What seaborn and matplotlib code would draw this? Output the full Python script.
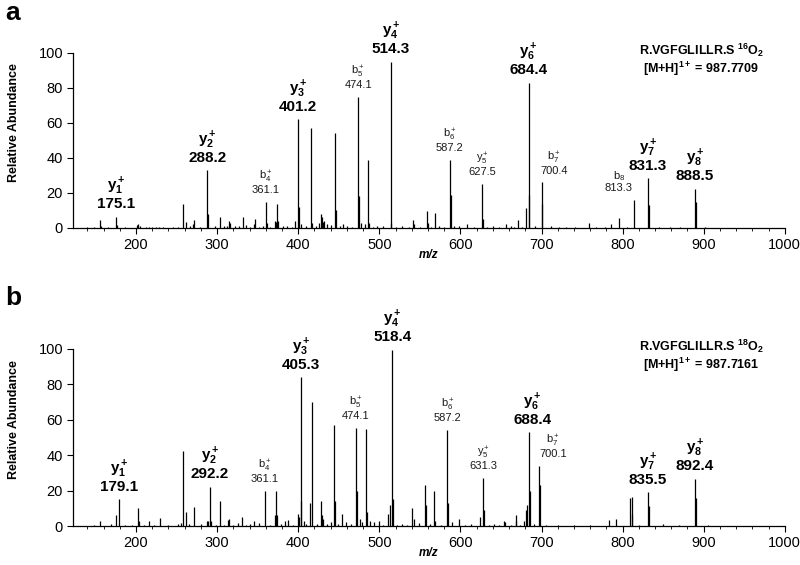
import matplotlib
matplotlib.use('Agg')
import matplotlib.pyplot as plt
import seaborn as sns
from matplotlib.ticker import MultipleLocator

# peaks of the 16O2 spectrum (panel a): m/z and relative abundance
mz_16 = [140, 148, 156, 157, 165, 175, 176, 186, 201, 203,
         205, 212, 216, 220, 224, 228, 233, 246, 252, 258,
         261, 266, 270, 272, 279, 288, 289, 297, 304, 308,
         312, 315, 316, 322, 327, 332, 336, 341, 345, 347,
         352, 356, 360, 361, 365, 371, 372, 374, 375, 381,
         386, 392, 396, 400, 401, 404, 410, 416, 417, 422,
         426, 428, 429, 430, 432, 436, 441, 445, 446, 451,
         455, 460, 466, 474, 475, 477, 482, 486, 487, 492,
         497, 505, 514, 515, 521, 528, 536, 542, 543, 550,
         559, 560, 564, 569, 574, 580, 587, 588, 592, 598,
         608, 617, 627, 628, 633, 640, 648, 656, 662, 666,
         671, 676, 681, 684, 685, 692, 700, 701, 712, 722,
         730, 741, 758, 767, 778, 786, 796, 806, 814, 831,
         832, 845, 858, 871, 889, 890, 902]
ab_16 = [0.5, 0.4, 4.5, 1.0, 0.5, 6.5, 1.5, 0.5, 1.5, 2.0,
         1.0, 0.8, 0.6, 0.8, 0.8, 0.8, 0.6, 0.6, 0.5, 13.5,
         3.5, 1.0, 2.0, 4.5, 0.8, 33.0, 8.0, 1.0, 6.5, 1.0,
         1.0, 4.0, 3.0, 1.0, 1.2, 6.0, 1.5, 0.8, 2.5, 5.0,
         0.8, 1.0, 15.0, 3.0, 0.8, 4.0, 3.5, 13.5, 4.0, 1.0,
         1.2, 0.8, 4.0, 62.0, 12.0, 2.0, 1.0, 57.0, 3.0, 1.0,
         3.0, 8.0, 6.0, 3.5, 4.0, 2.0, 1.5, 54.5, 10.0, 1.0,
         2.0, 1.0, 0.8, 75.0, 18.0, 3.0, 2.0, 39.0, 3.0, 0.8,
         1.0, 1.0, 95.0, 3.0, 0.8, 1.0, 0.8, 4.5, 2.0, 0.8,
         9.5, 3.0, 0.8, 8.5, 1.0, 0.8, 39.0, 19.0, 1.0, 1.0,
         2.0, 0.8, 25.0, 5.0, 0.8, 1.0, 0.8, 2.0, 1.0, 0.8,
         4.5, 0.8, 11.5, 83.0, 19.0, 1.0, 26.0, 13.5, 1.0, 0.6,
         0.5, 0.5, 3.0, 0.5, 0.5, 2.0, 5.7, 0.5, 16.0, 28.5,
         13.0, 0.5, 0.5, 0.5, 22.3, 15.0, 0.5]

# peaks of the 18O2 spectrum (panel b)
mz_18 = [148, 156, 169, 175, 179, 186, 195, 203, 204, 210,
         216, 222, 229, 240, 252, 256, 258, 261, 265, 271,
         280, 288, 289, 291, 292, 298, 303, 308, 313, 315,
         320, 326, 331, 336, 340, 346, 352, 359, 365, 371,
         373, 374, 379, 384, 387, 393, 400, 401, 403, 404,
         407, 410, 415, 417, 423, 428, 429, 430, 435, 440,
         444, 445, 449, 454, 459, 465, 471, 472, 476, 479,
         484, 485, 488, 494, 499, 505, 511, 513, 516, 517,
         522, 528, 534, 540, 543, 549, 556, 558, 562, 568,
         569, 576, 584, 585, 589, 598, 606, 613, 624, 628,
         629, 635, 642, 648, 654, 655, 662, 668, 669, 674,
         678, 681, 682, 685, 686, 691, 697, 698, 706, 720,
         740, 760, 783, 792, 809, 811, 812, 820, 831, 832,
         850, 870, 889, 890, 905]
ab_18 = [0.5, 3.0, 1.0, 6.0, 15.0, 0.6, 0.5, 10.0, 3.0, 0.8,
         3.0, 0.6, 4.5, 0.8, 1.0, 1.5, 42.2, 8.0, 1.0, 11.0,
         1.0, 3.0, 3.0, 22.2, 3.0, 0.8, 14.0, 0.6, 3.5, 4.0,
         0.8, 1.5, 5.0, 0.8, 1.0, 3.0, 1.5, 20.0, 0.8, 6.0,
         20.0, 6.0, 1.0, 3.0, 3.5, 0.8, 7.0, 5.0, 84.0, 14.0,
         3.0, 1.0, 13.0, 70.0, 1.0, 14.0, 6.0, 4.0, 1.0, 2.0,
         57.0, 14.0, 1.0, 7.0, 2.0, 1.0, 55.5, 19.5, 4.0, 2.0,
         55.0, 8.0, 3.0, 2.0, 3.0, 0.8, 7.0, 12.0, 99.5, 15.0,
         0.8, 1.0, 0.6, 10.0, 4.0, 1.5, 23.0, 12.0, 1.0, 20.0,
         3.0, 0.8, 54.0, 13.0, 2.0, 4.0, 0.8, 1.0, 5.0, 27.0,
         9.0, 0.8, 1.0, 0.6, 3.0, 2.0, 0.8, 6.0, 3.0, 0.8,
         3.0, 9.0, 12.0, 53.0, 20.0, 1.0, 34.0, 23.0, 0.6, 0.5,
         0.5, 0.5, 3.4, 3.8, 15.6, 16.2, 7.0, 0.5, 19.0, 11.3,
         1.0, 0.5, 26.6, 15.6, 0.5]

# annotated fragment ions: ion name, label value, peak m/z
ions_16 = ['y_1^+', 'y_2^+', 'b_4^+', 'y_3^+', 'b_5^+', 'y_4^+', 'b_6^+',
           'y_5^+', 'y_6^+', 'b_7^+', 'b_8', 'y_7^+', 'y_8^+']
vals_16 = ['175.1', '288.2', '361.1', '401.2', '474.1', '514.3', '587.2',
           '627.5', '684.4', '700.4', '813.3', '831.3', '888.5']
at_16 = [175, 288, 360, 400, 474, 514, 587, 627, 684, 700, 814, 831, 889]

ions_18 = ['y_1^+', 'y_2^+', 'b_4^+', 'y_3^+', 'b_5^+', 'y_4^+', 'b_6^+',
           'y_5^+', 'y_6^+', 'b_7^+', 'y_7^+', 'y_8^+']
vals_18 = ['179.1', '292.2', '361.1', '405.3', '474.1', '518.4', '587.2',
           '631.3', '688.4', '700.1', '835.5', '892.4']
at_18 = [179, 291, 359, 403, 471, 516, 584, 628, 685, 697, 831, 889]

# the bold labels are the y-ion series, except y5
bold_ions = ['y_1^+', 'y_2^+', 'y_3^+', 'y_4^+', 'y_6^+', 'y_7^+', 'y_8^+']

sns.set_theme(style='ticks')
plt.rcParams['font.family'] = ['Liberation Sans', 'DejaVu Sans']
plt.rcParams['mathtext.fontset'] = 'custom'
plt.rcParams['mathtext.rm'] = 'Liberation Sans'
plt.rcParams['mathtext.bf'] = 'Liberation Sans:bold'
plt.rcParams['mathtext.it'] = 'Liberation Sans:italic'
for key in ['text.color', 'axes.labelcolor', 'xtick.color', 'ytick.color',
            'axes.edgecolor', 'xtick.labelcolor', 'ytick.labelcolor']:
    plt.rcParams[key] = 'black'


def draw_spectrum(ax, mz, ab, ions, vals, at, nudge, header):
    ax.vlines(mz, 0, ab, color='black', linewidth=0.9)

    # label each annotated ion just above its peak
    for ion, val, m in zip(ions, vals, at):
        h = max(a for x, a in zip(mz, ab) if abs(x - m) < 1.5)
        dx = nudge.get(val, 0)
        if ion in bold_ions:
            txt = r'$\mathbf{' + ion + '}$\n' + val
            ax.annotate(txt, xy=(m, h), xytext=(dx, 4), textcoords='offset points',
                        ha='center', va='bottom', fontsize=11, fontweight='bold',
                        linespacing=1.0)
        else:
            txt = r'$\mathrm{' + ion + '}$\n' + val
            ax.annotate(txt, xy=(m, h), xytext=(dx, 5), textcoords='offset points',
                        ha='center', va='bottom', fontsize=8, linespacing=1.0,
                        color='#1a1a1a')

    ax.text(0.883, 0.80, header, transform=ax.transAxes, ha='center', va='center',
            fontsize=9, fontweight='bold', linespacing=1.1)

    ax.set_xlim(122, 1000)
    ax.set_ylim(0, 120)
    ax.set_xticks(range(200, 1001, 100))
    ax.set_yticks(range(0, 101, 20))
    ax.xaxis.set_minor_locator(MultipleLocator(20))
    ax.tick_params(axis='both', which='major', direction='out', length=4,
                   width=0.8, labelsize=10.5, color='black', pad=3)
    ax.tick_params(axis='x', which='minor', direction='out', length=2,
                   width=0.6, color='black')
    sns.despine(ax=ax)
    ax.spines['left'].set_bounds(0, 100)
    for s in ['left', 'bottom']:
        ax.spines[s].set_color('black')
        ax.spines[s].set_linewidth(0.9)

    ax.set_ylabel('Relative Abundance', fontsize=9, fontweight='bold')
    ax.yaxis.set_label_coords(-0.074, 0.5)
    ax.set_xlabel('m/z', fontsize=8.5, fontweight='bold', style='italic', labelpad=-2)


fig = plt.figure(figsize=(8, 5.65), dpi=100)
ax_a = fig.add_axes([0.091, 0.5965, 0.89, 0.3717])
ax_b = fig.add_axes([0.091, 0.069, 0.89, 0.376])

draw_spectrum(ax_a, mz_16, ab_16, ions_16, vals_16, at_16,
              {'813.3': -11, '700.4': 9},
              'R.VGFGLILLR.S $^{\\mathbf{16}}\\mathbf{O}_{\\mathbf{2}}$\n'
              '[M+H]$^{\\mathbf{1+}}$ = 987.7709')
draw_spectrum(ax_b, mz_18, ab_18, ions_18, vals_18, at_18,
              {'700.1': 10, '688.4': 2},
              'R.VGFGLILLR.S $^{\\mathbf{18}}\\mathbf{O}_{\\mathbf{2}}$\n'
              '[M+H]$^{\\mathbf{1+}}$ = 987.7161')

fig.text(0.006, 0.965, 'a', fontsize=19, fontweight='bold', va='baseline')
fig.text(0.006, 0.460, 'b', fontsize=19, fontweight='bold', va='baseline')

fig.savefig('out.png', dpi=100, facecolor='white')
